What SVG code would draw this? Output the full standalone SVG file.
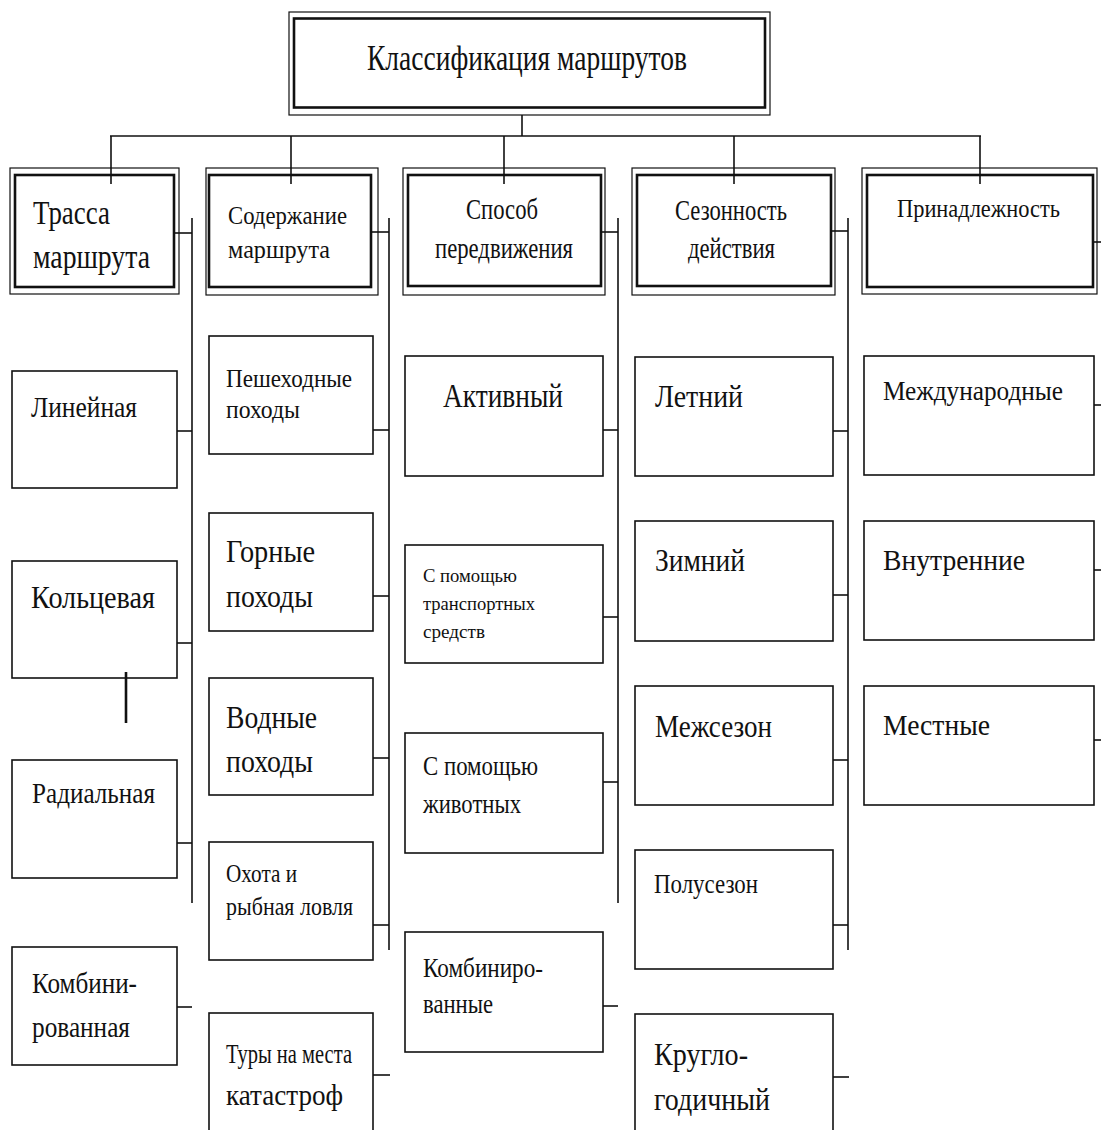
<svg xmlns="http://www.w3.org/2000/svg" width="1101" height="1130" viewBox="0 0 1101 1130">
<style>
text{font-family:"Liberation Serif","Times New Roman",serif;fill:#111}
.o{fill:#fff;stroke:#111;stroke-width:1.2}
.i{fill:none;stroke:#111;stroke-width:2.6}
.b{fill:#fff;stroke:#111;stroke-width:1.6}
.c line{stroke:#111;stroke-width:1.6}
</style>
<rect width="1101" height="1130" fill="#fff"/>
<g id="title">
<rect class="o" x="289" y="12" width="481" height="103"/>
<rect class="i" x="294" y="18.5" width="471" height="89"/>
<text x="367" y="70" font-size="36" textLength="320" lengthAdjust="spacingAndGlyphs">Классификация маршрутов</text>
</g>
<g id="h1">
<rect class="o" x="10" y="168" width="169" height="126"/>
<rect class="i" x="15" y="175" width="159" height="112"/>
<text x="33" y="224" font-size="34" textLength="77" lengthAdjust="spacingAndGlyphs">Трасса</text>
<text x="33" y="268" font-size="34" textLength="117" lengthAdjust="spacingAndGlyphs">маршрута</text>
</g>
<g id="h2">
<rect class="o" x="206" y="168" width="172" height="127"/>
<rect class="i" x="209" y="175" width="162" height="112"/>
<text x="228" y="224" font-size="25" textLength="119" lengthAdjust="spacingAndGlyphs">Содержание</text>
<text x="228" y="258" font-size="25" textLength="102" lengthAdjust="spacingAndGlyphs">маршрута</text>
</g>
<g id="h3">
<rect class="o" x="403" y="168" width="202" height="127"/>
<rect class="i" x="408" y="175" width="193" height="111"/>
<text x="466" y="219" font-size="29" textLength="72" lengthAdjust="spacingAndGlyphs">Способ</text>
<text x="435" y="258" font-size="29" textLength="138" lengthAdjust="spacingAndGlyphs">передвижения</text>
</g>
<g id="h4">
<rect class="o" x="632" y="168" width="203" height="127"/>
<rect class="i" x="637" y="175" width="194" height="111"/>
<text x="675" y="220" font-size="29" textLength="112" lengthAdjust="spacingAndGlyphs">Сезонность</text>
<text x="688" y="258" font-size="29" textLength="87" lengthAdjust="spacingAndGlyphs">действия</text>
</g>
<g id="h5">
<rect class="o" x="862" y="168" width="235" height="126"/>
<rect class="i" x="867" y="175" width="226" height="112"/>
<text x="897" y="217" font-size="26" textLength="163" lengthAdjust="spacingAndGlyphs">Принадлежность</text>
</g>
<g id="n-lin"><rect class="b" x="12" y="371" width="165" height="117"/><text x="31" y="417" font-size="30" textLength="106" lengthAdjust="spacingAndGlyphs">Линейная</text></g>
<g id="n-kol"><rect class="b" x="12" y="561" width="165" height="117"/><text x="31" y="608" font-size="32" textLength="124" lengthAdjust="spacingAndGlyphs">Кольцевая</text></g>
<g id="n-rad"><rect class="b" x="12" y="760" width="165" height="118"/><text x="32" y="803" font-size="30" textLength="123" lengthAdjust="spacingAndGlyphs">Радиальная</text></g>
<g id="n-komb1"><rect class="b" x="12" y="947" width="165" height="118"/><text x="32" y="993" font-size="30" textLength="105" lengthAdjust="spacingAndGlyphs">Комбини-</text><text x="32" y="1037" font-size="30" textLength="98" lengthAdjust="spacingAndGlyphs">рованная</text></g>
<g id="n-pesh"><rect class="b" x="209" y="336" width="164" height="118"/><text x="226" y="387" font-size="26" textLength="126" lengthAdjust="spacingAndGlyphs">Пешеходные</text><text x="226" y="418" font-size="26" textLength="74" lengthAdjust="spacingAndGlyphs">походы</text></g>
<g id="n-gor"><rect class="b" x="209" y="513" width="164" height="118"/><text x="226" y="562" font-size="32" textLength="89" lengthAdjust="spacingAndGlyphs">Горные</text><text x="226" y="607" font-size="32" textLength="87" lengthAdjust="spacingAndGlyphs">походы</text></g>
<g id="n-vod"><rect class="b" x="209" y="678" width="164" height="117"/><text x="226" y="728" font-size="32" textLength="91" lengthAdjust="spacingAndGlyphs">Водные</text><text x="226" y="772" font-size="32" textLength="87" lengthAdjust="spacingAndGlyphs">походы</text></g>
<g id="n-oh"><rect class="b" x="209" y="842" width="164" height="118"/><text x="226" y="882" font-size="26" textLength="71" lengthAdjust="spacingAndGlyphs">Охота и</text><text x="226" y="915" font-size="26" textLength="127" lengthAdjust="spacingAndGlyphs">рыбная ловля</text></g>
<g id="n-tur"><rect class="b" x="209" y="1013" width="164" height="130"/><text x="226" y="1063" font-size="27" textLength="126" lengthAdjust="spacingAndGlyphs">Туры на места</text><text x="226" y="1105" font-size="30" textLength="117" lengthAdjust="spacingAndGlyphs">катастроф</text></g>
<g id="n-akt"><rect class="b" x="405" y="356" width="198" height="120"/><text x="443" y="407" font-size="34" textLength="120" lengthAdjust="spacingAndGlyphs">Активный</text></g>
<g id="n-trans"><rect class="b" x="405" y="545" width="198" height="118"/><text x="423" y="582" font-size="19" textLength="94" lengthAdjust="spacingAndGlyphs">С помощью</text><text x="423" y="610" font-size="19" textLength="112" lengthAdjust="spacingAndGlyphs">транспортных</text><text x="423" y="638" font-size="19" textLength="62" lengthAdjust="spacingAndGlyphs">средств</text></g>
<g id="n-zhiv"><rect class="b" x="405" y="733" width="198" height="120"/><text x="423" y="775" font-size="27" textLength="115" lengthAdjust="spacingAndGlyphs">С помощью</text><text x="423" y="813" font-size="27" textLength="98" lengthAdjust="spacingAndGlyphs">животных</text></g>
<g id="n-komb2"><rect class="b" x="405" y="932" width="198" height="120"/><text x="423" y="977" font-size="27" textLength="120" lengthAdjust="spacingAndGlyphs">Комбиниро-</text><text x="423" y="1013" font-size="27" textLength="70" lengthAdjust="spacingAndGlyphs">ванные</text></g>
<g id="n-let"><rect class="b" x="635" y="357" width="198" height="119"/><text x="655" y="407" font-size="32" textLength="88" lengthAdjust="spacingAndGlyphs">Летний</text></g>
<g id="n-zim"><rect class="b" x="635" y="521" width="198" height="120"/><text x="655" y="571" font-size="32" textLength="90" lengthAdjust="spacingAndGlyphs">Зимний</text></g>
<g id="n-mezh"><rect class="b" x="635" y="686" width="198" height="119"/><text x="655" y="737" font-size="32" textLength="117" lengthAdjust="spacingAndGlyphs">Межсезон</text></g>
<g id="n-polu"><rect class="b" x="635" y="850" width="198" height="119"/><text x="654" y="893" font-size="27" textLength="104" lengthAdjust="spacingAndGlyphs">Полусезон</text></g>
<g id="n-krug"><rect class="b" x="635" y="1014" width="198" height="130"/><text x="654" y="1065" font-size="31" textLength="94" lengthAdjust="spacingAndGlyphs">Кругло-</text><text x="654" y="1110" font-size="31" textLength="116" lengthAdjust="spacingAndGlyphs">годичный</text></g>
<g id="n-mezhd"><rect class="b" x="864" y="356" width="230" height="119"/><text x="883" y="400" font-size="27" textLength="180" lengthAdjust="spacingAndGlyphs">Международные</text></g>
<g id="n-vnut"><rect class="b" x="864" y="521" width="230" height="119"/><text x="883" y="570" font-size="30" textLength="142" lengthAdjust="spacingAndGlyphs">Внутренние</text></g>
<g id="n-mest"><rect class="b" x="864" y="686" width="230" height="119"/><text x="883" y="735" font-size="30" textLength="107" lengthAdjust="spacingAndGlyphs">Местные</text></g>
<g class="c" id="connectors">
<line x1="522" y1="115" x2="522" y2="136"/>
<line x1="110" y1="136" x2="981" y2="136"/>
<line x1="111" y1="136" x2="111" y2="184"/>
<line x1="291" y1="136" x2="291" y2="184"/>
<line x1="504" y1="136" x2="504" y2="184"/>
<line x1="734" y1="136" x2="734" y2="184"/>
<line x1="980" y1="136" x2="980" y2="184"/>
<line x1="192" y1="218" x2="192" y2="903"/>
<line x1="175" y1="233" x2="192" y2="233"/>
<line x1="177" y1="431" x2="192" y2="431"/>
<line x1="177" y1="643" x2="192" y2="643"/>
<line x1="177" y1="843" x2="192" y2="843"/>
<line x1="177" y1="1007" x2="192" y2="1007"/>
<line x1="126" y1="672" x2="126" y2="723" style="stroke-width:2.6"/>
<line x1="389" y1="218" x2="389" y2="950"/>
<line x1="371" y1="232" x2="389" y2="232"/>
<line x1="373" y1="430" x2="389" y2="430"/>
<line x1="373" y1="596" x2="389" y2="596"/>
<line x1="373" y1="758" x2="389" y2="758"/>
<line x1="373" y1="925" x2="389" y2="925"/>
<line x1="373" y1="1075" x2="390" y2="1075"/>
<line x1="618" y1="218" x2="618" y2="903"/>
<line x1="601" y1="232" x2="618" y2="232"/>
<line x1="603" y1="430" x2="618" y2="430"/>
<line x1="603" y1="617" x2="618" y2="617"/>
<line x1="603" y1="782" x2="618" y2="782"/>
<line x1="603" y1="1006" x2="618" y2="1006"/>
<line x1="848" y1="218" x2="848" y2="950"/>
<line x1="831" y1="231" x2="848" y2="231"/>
<line x1="833" y1="431" x2="848" y2="431"/>
<line x1="833" y1="595" x2="848" y2="595"/>
<line x1="833" y1="760" x2="848" y2="760"/>
<line x1="833" y1="925" x2="848" y2="925"/>
<line x1="833" y1="1077" x2="849" y2="1077"/>
<line x1="1093" y1="242" x2="1101" y2="242"/>
<line x1="1094" y1="405" x2="1101" y2="405"/>
<line x1="1094" y1="570" x2="1101" y2="570"/>
<line x1="1094" y1="740" x2="1101" y2="740"/>
</g>
</svg>
